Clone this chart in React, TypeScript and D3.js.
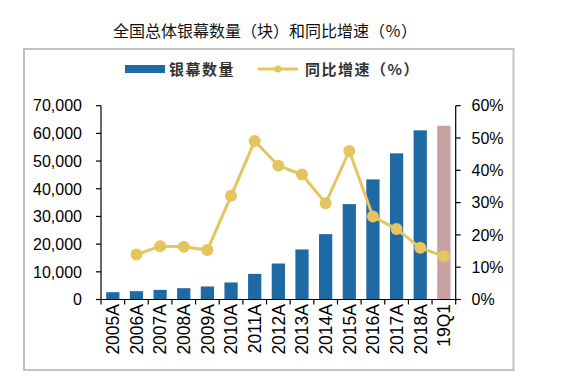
import React from "react";
import * as d3 from "d3";

const categories = ["2005A","2006A","2007A","2008A","2009A","2010A","2011A","2012A","2013A","2014A","2015A","2016A","2017A","2018A","19Q1"];
const screens = [2640, 3000, 3470, 4080, 4700, 6150, 9260, 13000, 18080, 23600, 34450, 43380, 52780, 61100, 62770];
const growth: (number | null)[] = [null, 13.9, 16.5, 16.3, 15.3, 32.1, 49.1, 41.4, 38.7, 29.8, 46.0, 25.7, 21.8, 16.0, 13.4];
const leftTicks = [0, 10000, 20000, 30000, 40000, 50000, 60000, 70000];
const rightTicks = [0, 10, 20, 30, 40, 50, 60];

const W = 571, H = 378;
const L = 101, R = 455.7, T = 105.7, B = 299.5;
const BLUE = "#1F69A4", PINK = "#C9A1A1", GOLD = "#E5C55E";
const NUM = "'Liberation Sans', Arial, sans-serif";
const CJK = "'Noto Sans CJK SC', sans-serif";

export default function App() {
  const x = d3.scaleBand<string>().domain(categories).range([L, R]).paddingInner(0.44).paddingOuter(0.22);
  const xb = d3.scaleBand<string>().domain(categories).range([L, R]);
  const yL = d3.scaleLinear().domain([0, 70000]).range([B, T]);
  const yR = d3.scaleLinear().domain([0, 60]).range([B, T]);
  const fmt = d3.format(",");
  const pts = categories.map((c, i) => ({ c, v: growth[i] })).filter(d => d.v !== null) as { c: string; v: number }[];
  const line = d3.line<{ c: string; v: number }>()
    .x(d => (xb(d.c) as number) + xb.bandwidth() / 2)
    .y(d => yR(d.v));

  return (
    <svg width={W} height={H} style={{ position: "absolute", left: 0, top: 0 }}>
      <rect x={0} y={0} width={W} height={H} fill="#fff" />
      <text x={265} y={37} textAnchor="middle" fontFamily={CJK} fontSize={16} fill="#111">全国总体银幕数量（块）和同比增速（％）</text>
      <rect x={24} y={49} width={489.5} height={321} fill="none" stroke="#c2c2c2" strokeWidth={2} />

      {/* legend */}
      <rect x={125} y={65} width={40} height={8} fill={BLUE} />
      <text x={169} y={75} fontFamily={CJK} fontSize={15} fontWeight="bold" letterSpacing={1.5} fill="#333">银幕数量</text>
      <line x1={258} x2={298} y1={69} y2={69} stroke={GOLD} strokeWidth={3} />
      <circle cx={278} cy={69} r={3.5} fill={GOLD} />
      <text x={305} y={75} fontFamily={CJK} fontSize={15} fontWeight="bold" letterSpacing={1.5} fill="#333">同比增速（%）</text>

      {/* bars */}
      {categories.map((c, i) => (
        <rect key={c} x={x(c)} y={yL(screens[i])} width={x.bandwidth()} height={B - yL(screens[i])}
          fill={i === categories.length - 1 ? PINK : BLUE} />
      ))}

      {/* line */}
      <path d={line(pts) || ""} fill="none" stroke={GOLD} strokeWidth={3} />
      {pts.map(d => (
        <circle key={d.c} cx={(xb(d.c) as number) + xb.bandwidth() / 2} cy={yR(d.v)} r={6} fill={GOLD} />
      ))}

      {/* left axis */}
      <line x1={L} x2={L} y1={T} y2={B} stroke="#000" strokeWidth={1.2} />
      {leftTicks.map(t => (
        <g key={t}>
          <line x1={L - 5} x2={L} y1={yL(t)} y2={yL(t)} stroke="#000" strokeWidth={1.2} />
          <text x={82} y={yL(t)} dy="0.36em" textAnchor="end" fontFamily={NUM} fontSize={16} fill="#000">{fmt(t)}</text>
        </g>
      ))}

      {/* right axis */}
      <line x1={R} x2={R} y1={T} y2={B} stroke="#000" strokeWidth={1.2} />
      {rightTicks.map(t => (
        <g key={t}>
          <line x1={R} x2={R + 5} y1={yR(t)} y2={yR(t)} stroke="#000" strokeWidth={1.2} />
          <text x={471.5} y={yR(t)} dy="0.36em" textAnchor="start" fontFamily={NUM} fontSize={16} fill="#000">{t}%</text>
        </g>
      ))}

      {/* x axis */}
      <line x1={L - 5} x2={R + 5} y1={B} y2={B} stroke="#000" strokeWidth={1.2} />
      {categories.map((c, i) => (
        <line key={"t" + c} x1={(xb(c) as number) + (i === 0 ? 0 : 0)} x2={xb(c) as number} y1={B} y2={B + 5} stroke="#000" strokeWidth={1.2} />
      ))}
      <line x1={R} x2={R} y1={B} y2={B + 5} stroke="#000" strokeWidth={1.2} />
      {categories.map(c => {
        const cx = (xb(c) as number) + xb.bandwidth() / 2;
        return (
          <text key={"l" + c} transform={`translate(${cx},${304}) rotate(-90)`} dy="0.36em" textAnchor="end"
            fontFamily={NUM} fontSize={17.5} fill="#000">{c}</text>
        );
      })}
    </svg>
  );
}
